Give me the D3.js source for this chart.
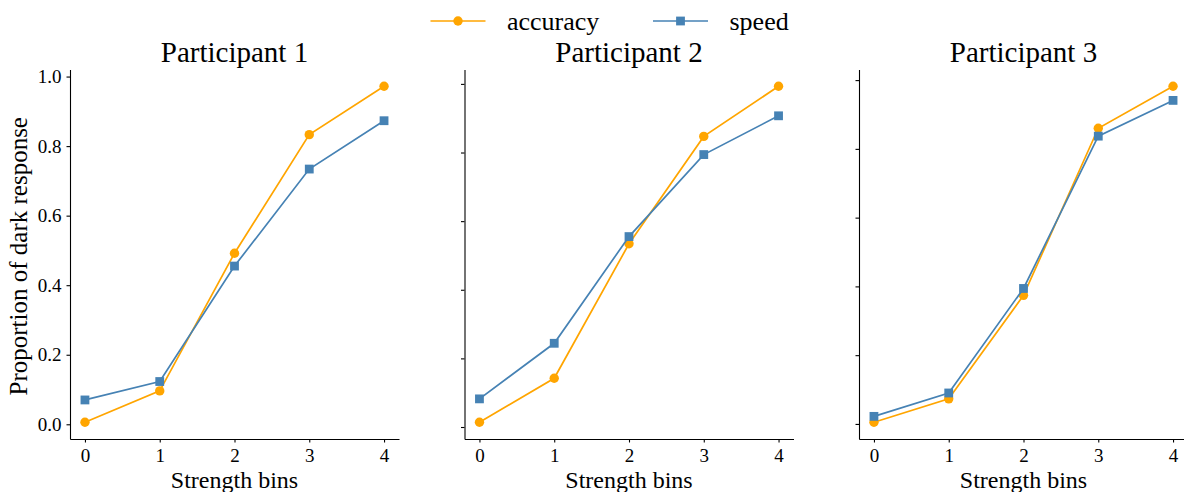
<!DOCTYPE html>
<html>
<head>
<meta charset="utf-8">
<script src="https://cdn.jsdelivr.net/npm/d3@7"></script>
<style>
  body { margin: 0; background: #fff; }
  svg text { font-family: "Liberation Serif", "Times New Roman", serif; fill: #000; }
</style>
</head>
<body>
<div id="chart"></div>
<script>
(function () {
    // data
    var bins = [0, 1, 2, 3, 4];
    var participants = ["Participant 1", "Participant 2", "Participant 3"];
    var accuracy = [
        [0.006, 0.096, 0.492, 0.833, 0.972],
        [0.014, 0.142, 0.534, 0.847, 0.993],
        [0.005, 0.073, 0.374, 0.860, 0.982]
    ];
    var speed = [
        [0.070, 0.123, 0.455, 0.734, 0.873],
        [0.082, 0.244, 0.555, 0.794, 0.907],
        [0.022, 0.090, 0.394, 0.837, 0.941]
    ];
    var yTicks = [0, 0.2, 0.4, 0.6, 0.8, 1.0];
    var seriesNames = ["accuracy", "speed"];
    var colors = { accuracy: "#FFA500", speed: "#4682B4" };

    var W = 1184, H = 492;
    var top = 69.5, bottom = 439;
    var panelW = 329, panelLefts = [70, 464.5, 859];

    var svg = d3.select("#chart")
        .append("svg")
        .attr("width", W)
        .attr("height", H);

    function padded(ext) {
        var d = (ext[1] - ext[0]) * 0.05;
        return [ext[0] - d, ext[1] + d];
    }

    participants.forEach(function (name, i) {
        var g = svg.append("g")
            .attr("transform", "translate(" + panelLefts[i] + ",0)");

        var x = d3.scaleLinear()
            .domain(padded(d3.extent(bins)))
            .range([0, panelW]);
        var y = d3.scaleLinear()
            .domain(padded(d3.extent(accuracy[i].concat(speed[i]))))
            .range([bottom, top]);

        // axes
        var xAxis = g.append("g")
            .attr("transform", "translate(0," + bottom + ")")
            .call(d3.axisBottom(x).tickValues(bins).tickFormat(d3.format("d"))
                .tickSizeInner(3.5).tickSizeOuter(0).tickPadding(5));
        var yAxis = g.append("g")
            .call(d3.axisLeft(y).tickValues(yTicks)
                .tickFormat(i === 0 ? d3.format(".1f") : "")
                .tickSizeInner(3.5).tickSizeOuter(0).tickPadding(5));
        [xAxis, yAxis].forEach(function (a) {
            a.selectAll("path.domain").attr("stroke", "#000").attr("stroke-width", 1.1);
            a.selectAll(".tick line").attr("stroke", "#000").attr("stroke-width", 1.1);
            a.selectAll(".tick text").style("font-size", "19px")
                .style("font-family", "Liberation Serif");
        });
        xAxis.selectAll(".tick text").attr("dy", "0.75em");

        // lines and markers
        var line = d3.line()
            .x(function (d, j) { return x(bins[j]); })
            .y(function (d) { return y(d); });

        g.append("path")
            .datum(accuracy[i])
            .attr("fill", "none")
            .attr("stroke", colors.accuracy)
            .attr("stroke-width", 1.7)
            .attr("d", line);
        g.selectAll("circle.acc")
            .data(accuracy[i])
            .enter()
            .append("circle")
            .attr("class", "acc")
            .attr("cx", function (d, j) { return x(bins[j]); })
            .attr("cy", function (d) { return y(d); })
            .attr("r", 4.7)
            .attr("fill", colors.accuracy);

        g.append("path")
            .datum(speed[i])
            .attr("fill", "none")
            .attr("stroke", colors.speed)
            .attr("stroke-width", 1.7)
            .attr("d", line);
        g.selectAll("rect.spd")
            .data(speed[i])
            .enter()
            .append("rect")
            .attr("class", "spd")
            .attr("x", function (d, j) { return x(bins[j]) - 4.4; })
            .attr("y", function (d) { return y(d) - 4.4; })
            .attr("width", 8.8)
            .attr("height", 8.8)
            .attr("fill", colors.speed);

        // title
        g.append("text")
            .attr("x", panelW / 2)
            .attr("y", 62)
            .attr("text-anchor", "middle")
            .style("font-size", "29px")
            .text(name);

        // x label (cut at the bottom edge, as in the reference)
        g.append("text")
            .attr("x", panelW / 2)
            .attr("y", 488)
            .attr("text-anchor", "middle")
            .style("font-size", "24px")
            .text("Strength bins");
    });

    // y label
    svg.append("text")
        .attr("transform", "translate(27," + ((top + bottom) / 2 + 2) + ") rotate(-90)")
        .attr("text-anchor", "middle")
        .style("font-size", "25px")
        .text("Proportion of dark response");

    // legend
    var legendX = [430.5, 653];
    var legend = svg.append("g").attr("transform", "translate(0,21)");
    seriesNames.forEach(function (s, k) {
        var lg = legend.append("g").attr("transform", "translate(" + legendX[k] + ",0)");
        lg.append("line")
            .attr("x1", 0).attr("x2", 55)
            .attr("stroke", colors[s]).attr("stroke-width", 1.7);
        if (s === "accuracy") {
            lg.append("circle").attr("cx", 27.5).attr("r", 4.7).attr("fill", colors[s]);
        } else {
            lg.append("rect").attr("x", 23.1).attr("y", -4.4)
                .attr("width", 8.8).attr("height", 8.8).attr("fill", colors[s]);
        }
        lg.append("text")
            .attr("x", 76.5)
            .attr("y", 8.5)
            .style("font-size", "26px")
            .text(s);
    });
})();
</script>
</body>
</html>
